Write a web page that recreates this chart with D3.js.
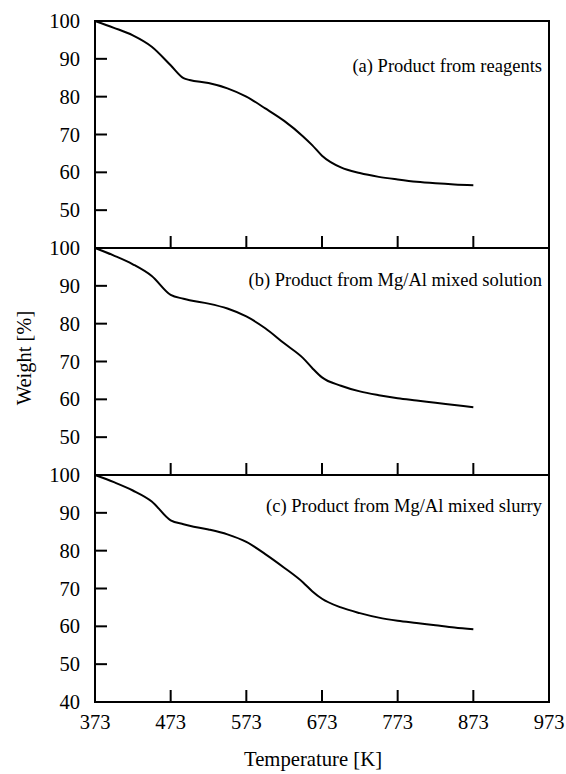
<!DOCTYPE html>
<html>
<head>
<meta charset="utf-8">
<script src="https://cdn.jsdelivr.net/npm/d3@7"></script>
<style>
  html, body { margin: 0; padding: 0; background: #fff; }
  svg { display: block; }
</style>
</head>
<body>
<svg id="chart" width="566" height="774"></svg>
<script>
// ---- data ----
const temps = [373, 398, 423, 448, 473, 490, 498, 523, 548, 573, 598, 623, 648, 660, 673, 698, 723, 748, 773, 798, 823, 848, 873];
const weightA = [100, 98.2, 96.2, 93.2, 88.3, 84.9, 84.4, 83.6, 82.2, 80.0, 76.9, 73.6, 69.5, 67.2, 64.4, 61.3, 59.8, 58.8, 58.1, 57.5, 57.1, 56.8, 56.6];
const weightB = [100, 98.0, 95.7, 92.6, 87.6, 86.6, 86.2, 85.3, 84.0, 81.9, 78.8, 74.8, 70.9, 68.3, 65.8, 63.6, 62.1, 61.1, 60.3, 59.7, 59.1, 58.5, 57.9];
const weightC = [100, 98.1, 95.9, 93.0, 88.0, 87.0, 86.6, 85.6, 84.3, 82.3, 79.1, 75.5, 71.6, 69.3, 67.3, 65.0, 63.5, 62.3, 61.5, 60.9, 60.3, 59.7, 59.2];
const panelLabels = ["(a) Product from reagents", "(b) Product from Mg/Al mixed solution", "(c) Product from Mg/Al mixed slurry"];
const xTicks = [373, 473, 573, 673, 773, 873, 973];
const yTicks = [50, 60, 70, 80, 90, 100];
const yTicksBottom = [40, 50, 60, 70, 80, 90, 100];

const series = [weightA, weightB, weightC];
const FONT = "'Liberation Serif', 'Times New Roman', Times, serif";

// ---- layout ----
const svg = d3.select("#chart").attr("font-family", FONT);
const left = 95, right = 549;
const panelTops = [21, 248, 475];
const panelH = 227;
const labelOffsets = [51, 38, 37];

const x = d3.scaleLinear().domain([373, 973]).range([left, right]);

series.forEach((vals, i) => {
  const top = panelTops[i], bottom = top + panelH;
  const y = d3.scaleLinear().domain([40, 100]).range([bottom, top]);
  const g = svg.append("g");

  g.append("rect")
    .attr("x", left).attr("y", top)
    .attr("width", right - left).attr("height", panelH)
    .attr("fill", "none").attr("stroke", "#000").attr("stroke-width", 2);

  const inner = xTicks.filter(t => t > 373 && t < 973);
  g.selectAll(".xt").data(inner).enter().append("line")
    .attr("x1", d => x(d)).attr("x2", d => x(d))
    .attr("y1", bottom).attr("y2", bottom - 12)
    .attr("stroke", "#000").attr("stroke-width", 2);

  g.selectAll(".yt").data(yTicks.filter(t => t > 40 && t < 100)).enter().append("line")
    .attr("x1", left).attr("x2", left + 12)
    .attr("y1", d => y(d)).attr("y2", d => y(d))
    .attr("stroke", "#000").attr("stroke-width", 2);

  const labs = i === 2 ? yTicksBottom : yTicks;
  g.selectAll(".yl").data(labs).enter().append("text")
    .attr("x", left - 15).attr("y", d => y(d) + 7)
    .attr("text-anchor", "end").attr("font-size", 20.5)
    .text(d => d);

  const line = d3.line()
    .x((d, k) => x(temps[k]))
    .y(d => y(d))
    .curve(d3.curveMonotoneX);
  g.append("path").datum(vals)
    .attr("d", line)
    .attr("fill", "none").attr("stroke", "#000").attr("stroke-width", 2);

  g.append("text")
    .attr("x", 542).attr("y", top + labelOffsets[i])
    .attr("text-anchor", "end").attr("font-size", 18.5)
    .text(panelLabels[i]);

  if (i === 2) {
    g.selectAll(".xl").data(xTicks).enter().append("text")
      .attr("x", d => x(d)).attr("y", bottom + 27)
      .attr("text-anchor", "middle").attr("font-size", 20.5)
      .text(d => d);
  }
});

svg.append("text")
  .attr("x", 313).attr("y", 766)
  .attr("text-anchor", "middle").attr("font-size", 20.7)
  .text("Temperature [K]");

svg.append("text")
  .attr("transform", "translate(31,358) rotate(-90)")
  .attr("text-anchor", "middle").attr("font-size", 20.5)
  .text("Weight [%]");
</script>
</body>
</html>
